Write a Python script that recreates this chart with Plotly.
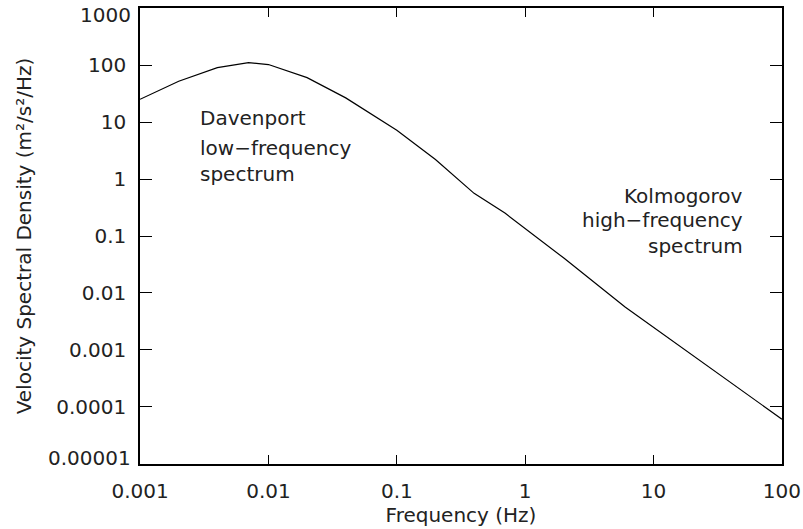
import plotly.graph_objects as go

# Data
freq = [0.001, 0.002, 0.004, 0.007, 0.01, 0.02, 0.04, 0.1, 0.2, 0.4, 0.7, 2, 6, 100]
psd = [25, 52, 90, 110, 102, 60, 26.5, 7.2, 2.2, 0.56, 0.25, 0.041, 0.0057, 0.000061]

x_tickvals = [0.001, 0.01, 0.1, 1, 10, 100]
x_ticktext = ["0.001", "0.01", "0.1", "1", "10", "100"]
y_tickvals = [1e-5, 1e-4, 1e-3, 1e-2, 1e-1, 1, 10, 100, 1000]
y_ticktext = ["0.00001", "0.0001", "0.001", "0.01", "0.1", "1", "10", "100", "1000"]

davenport_lines = ["Davenport", "low−frequency", "spectrum"]
kolmogorov_lines = ["Kolmogorov", "high−frequency", "spectrum"]

FONT = "DejaVu Sans"
TXT = "#222222"
FS = 20

# end labels of the y axis are nudged inside the frame (as in the reference)
inner_ticktext = [t if 0 < i < len(y_ticktext) - 1 else "" for i, t in enumerate(y_ticktext)]

fig = go.Figure()
fig.add_trace(go.Scatter(x=freq, y=psd, mode="lines",
                         line=dict(color="black", width=1.2),
                         showlegend=False, hoverinfo="skip"))

fig.update_layout(
    width=803, height=529,
    margin=dict(l=140, r=21, t=8, b=65),
    paper_bgcolor="white", plot_bgcolor="white",
    font=dict(family=FONT, size=FS, color=TXT),
    xaxis=dict(type="log", range=[-3.0005, 2.0005], tickvals=x_tickvals, ticktext=x_ticktext,
               ticks="inside", ticklen=9, tickwidth=1, tickcolor="black",
               showline=True, linecolor="black", linewidth=1.5, mirror="allticks",
               showgrid=False, zeroline=False, ticklabelstandoff=8, automargin=False,
               ticklabeloverflow="allow",
               title=dict(text="Frequency (Hz)", standoff=3,
                          font=dict(family=FONT, size=FS, color=TXT))),
    yaxis=dict(type="log", range=[-5.0005, 3.0005], tickvals=y_tickvals, ticktext=inner_ticktext,
               ticks="inside", ticklen=12, tickwidth=1, tickcolor="black",
               showline=True, linecolor="black", linewidth=1.5, mirror="allticks",
               showgrid=False, zeroline=False, ticklabelstandoff=8, automargin=False,
               ticklabeloverflow="allow",
               title=dict(text="Velocity Spectral Density (m²/s²/Hz)", standoff=19,
                          font=dict(family=FONT, size=FS, color=TXT))),
)

# end tick labels as annotations, shifted inside like the reference
fig.add_annotation(x=0, y=3, xref="paper", yref="y", text=y_ticktext[-1],
                   showarrow=False, xanchor="right", yanchor="middle",
                   xshift=-7, yshift=-7, font=dict(family=FONT, size=FS, color=TXT))
fig.add_annotation(x=0, y=-5, xref="paper", yref="y", text=y_ticktext[0],
                   showarrow=False, xanchor="right", yanchor="middle",
                   xshift=-7, yshift=6, font=dict(family=FONT, size=FS, color=TXT))

for txt, yp in zip(davenport_lines, [0.758, 0.694, 0.635]):
    fig.add_annotation(x=0.091, y=yp, xref="paper", yref="paper", text=txt,
                       showarrow=False, xanchor="left", yanchor="middle",
                       font=dict(family=FONT, size=FS, color=TXT))
for txt, yp in zip(kolmogorov_lines, [0.588, 0.535, 0.477]):
    fig.add_annotation(x=0.942, y=yp, xref="paper", yref="paper", text=txt,
                       showarrow=False, xanchor="right", yanchor="middle",
                       font=dict(family=FONT, size=FS, color=TXT))

fig.write_html("out.html", config={"displayModeBar": False},
               post_script="document.body.style.margin='0';")
